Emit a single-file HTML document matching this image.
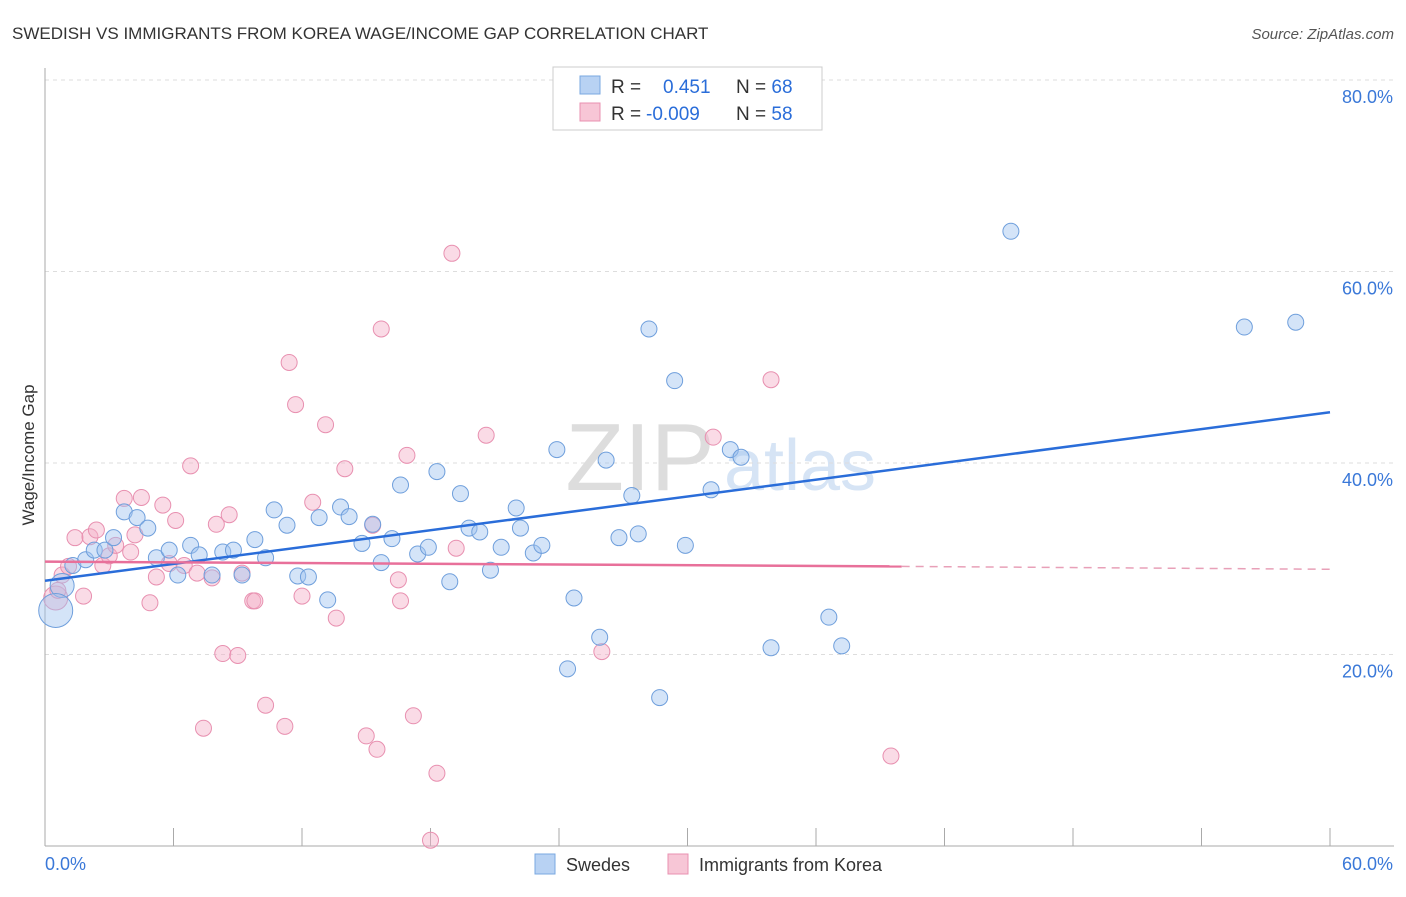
<!DOCTYPE html>
<html><head><meta charset="utf-8"><style>
body{margin:0;background:#fff;font-family:"Liberation Sans",sans-serif;}
svg text{font-family:"Liberation Sans",sans-serif;}
</style></head><body>
<svg id="c" width="1406" height="892" xmlns="http://www.w3.org/2000/svg">
<text x="12" y="39" font-size="17" fill="#333">SWEDISH VS IMMIGRANTS FROM KOREA WAGE/INCOME GAP CORRELATION CHART</text>
<text x="1394" y="39" font-size="15" fill="#555" text-anchor="end" font-style="italic">Source: ZipAtlas.com</text>
<text x="640" y="490" font-size="96" fill="#ddd" text-anchor="middle" font-family="Liberation Serif">ZIP</text>
<text x="800" y="490" font-size="72" fill="#d6e4f5" text-anchor="middle">atlas</text>
<g id="grid"></g><g id="axes"></g><g id="pts"></g><g id="lines"></g>
<text transform="translate(34,455) rotate(-90)" font-size="17" fill="#333" text-anchor="middle">Wage/Income Gap</text>
<rect x="553" y="67" width="269" height="63" fill="#fff" stroke="#ccc"/>
<rect x="580" y="76" width="20" height="18" fill="#b8d2f3" stroke="#7aa8e0"/>
<rect x="580" y="103" width="20" height="18" fill="#f7c6d6" stroke="#e890b0"/>
<text x="611" y="93" font-size="19" fill="#333">R = <tspan fill="#2a6dd9" x="663">0.451</tspan><tspan x="736" fill="#333">N = </tspan><tspan fill="#2a6dd9">68</tspan></text>
<text x="611" y="120" font-size="19" fill="#333">R = <tspan fill="#2a6dd9" x="646">-0.009</tspan><tspan x="736" fill="#333">N = </tspan><tspan fill="#2a6dd9">58</tspan></text>
<rect x="535" y="854" width="20" height="20" fill="#b8d2f3" stroke="#7aa8e0"/>
<text x="566" y="871" font-size="18" fill="#333">Swedes</text>
<rect x="668" y="854" width="20" height="20" fill="#f7c6d6" stroke="#e890b0"/>
<text x="699" y="871" font-size="18" fill="#333">Immigrants from Korea</text>
</svg>
<script>
const blueX=[0.8,0.5,1.3,1.9,2.3,2.8,3.2,3.7,4.3,4.8,5.2,5.8,6.2,6.8,7.2,7.8,8.3,8.8,9.2,9.8,10.3,10.7,11.3,11.8,12.3,12.8,13.2,13.8,14.2,14.8,15.3,15.7,16.2,16.6,17.4,17.9,18.3,18.9,19.4,19.8,20.3,20.8,21.3,22.0,22.2,22.8,23.2,23.9,24.4,24.7,25.9,26.2,26.8,27.4,27.7,28.2,28.7,29.4,29.9,31.1,32.0,32.5,33.9,36.6,37.2,45.1,56.0,58.4];
const blueY=[27.2,24.6,29.3,29.9,30.9,30.9,32.2,34.9,34.3,33.2,30.1,30.9,28.3,31.4,30.4,28.3,30.7,30.9,28.3,32.0,30.1,35.1,33.5,28.2,28.1,34.3,25.7,35.4,34.4,31.6,33.6,29.6,32.1,37.7,30.5,31.2,39.1,27.6,36.8,33.2,32.8,28.8,31.2,35.3,33.2,30.6,31.4,41.4,18.5,25.9,21.8,40.3,32.2,36.6,32.6,54.0,15.5,48.6,31.4,37.2,41.4,40.6,20.7,23.9,20.9,64.2,54.2,54.7];
const pinkX=[0.5,0.6,0.8,1.1,1.4,1.8,2.1,2.4,2.7,3.0,3.3,3.7,4.0,4.2,4.5,4.9,5.2,5.5,5.8,6.1,6.5,6.8,7.1,7.4,7.8,8.0,8.3,8.6,9.0,9.2,9.7,9.8,10.3,11.2,11.4,11.7,12.0,12.5,13.1,13.6,14.0,15.3,15.0,15.5,15.7,16.5,16.6,16.9,17.2,18.3,18.0,19.0,19.2,20.6,26.0,31.2,33.9,39.5];
const pinkY=[25.9,26.7,28.3,29.2,32.2,26.1,32.3,33.0,29.3,30.3,31.4,36.3,30.7,32.5,36.4,25.4,28.1,35.6,29.5,34.0,29.3,39.7,28.5,12.3,28.0,33.6,20.1,34.6,19.9,28.5,25.6,25.6,14.7,12.5,50.5,46.1,26.1,35.9,44.0,23.8,39.4,33.5,11.5,10.1,54.0,27.8,25.6,40.8,13.6,7.6,0.6,61.9,31.1,42.9,20.3,42.7,48.7,9.4];
const blueTrend=[27.7,45.3];
const pinkTrend=[29.7,29.2,28.9];
const yTicks=[20,40,60,80];
const xTicks=[0,6,12,18,24,30,36,42,48,54,60];
const NS="http://www.w3.org/2000/svg";
const xs=v=>45+v/60*1285, ys=v=>846-v/20*191.5;
function mk(t,a,p){const e=document.createElementNS(NS,t);for(const k in a)e.setAttribute(k,a[k]);document.getElementById(p).appendChild(e);return e;}
yTicks.forEach(t=>{
 const l=mk('line',{x1:45,x2:1394,y1:ys(t),y2:ys(t),stroke:'#ddd','stroke-dasharray':'4,4'},'grid');
 
 
 const tx=mk('text',{x:1393,y:ys(t)+23,'font-size':18,fill:'#3a78d8','text-anchor':'end'},'grid');
 tx.textContent=t.toFixed(1)+'%';
 
 
});
const ax=mk('line',{x1:45,x2:1394,y1:846,y2:846,stroke:'#aaa'},'axes');


const ay=mk('line',{x1:45,x2:45,y1:68,y2:846,stroke:'#aaa'},'axes');


xTicks.forEach(t=>{
 const l=mk('line',{x1:xs(t),x2:xs(t),y1:828,y2:846,stroke:'#aaa'},'axes');
 
 
});
[[0,45,'start'],[60,1393,'end']].forEach(([v,x,a])=>{
 const tx=mk('text',{x:x,y:870,'font-size':18,fill:'#3a78d8','text-anchor':a},'axes');
 tx.textContent=v.toFixed(1)+'%';
 
 
});
pinkX.forEach((x,i)=>{
 const c=mk('circle',{cx:xs(x),cy:ys(pinkY[i]),r:i==0?12:8,fill:'rgba(245,175,200,0.45)',stroke:'#e890b0','stroke-width':1},'pts');
 
 
});
blueX.forEach((x,i)=>{
 const c=mk('circle',{cx:xs(x),cy:ys(blueY[i]),r:i==1?17:(i==0?12:8),fill:'rgba(160,196,240,0.45)',stroke:'#6f9fdc','stroke-width':1},'pts');
 
 
});
const bl=mk('line',{x1:xs(0),y1:ys(blueTrend[0]),x2:xs(60),y2:ys(blueTrend[1]),stroke:'#2a6dd9','stroke-width':2.5},'lines');


const pl=mk('line',{x1:xs(0),y1:ys(pinkTrend[0]),x2:xs(40),y2:ys(pinkTrend[1]),stroke:'#e8709a','stroke-width':2.5},'lines');


const pd=mk('line',{x1:xs(40),y1:ys(pinkTrend[1]),x2:xs(60),y2:ys(pinkTrend[2]),stroke:'#e8a0b8','stroke-width':1.5,'stroke-dasharray':'8,6'},'lines');


</script>
</body></html>
